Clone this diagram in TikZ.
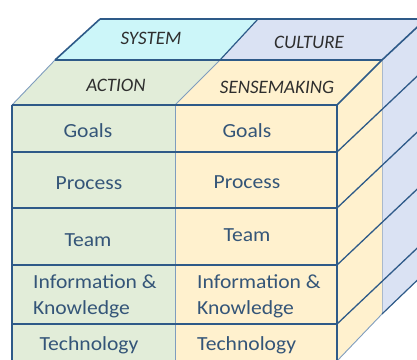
\documentclass[tikz,border=0pt]{standalone}
\usepackage{fontspec}
\setmainfont{Carlito}
\newfontfamily\cellfont[FakeStretch=1.08]{Carlito}
\definecolor{edge}{HTML}{2E5A88}
\definecolor{lightedge}{HTML}{7F9DBE}
\definecolor{divider}{HTML}{A9B9CC}
\definecolor{sysfill}{HTML}{CCF6F9}
\definecolor{culfill}{HTML}{DAE2F3}
\definecolor{actfill}{HTML}{E2EDD9}
\definecolor{senfill}{HTML}{FFF1CE}
\definecolor{celltext}{HTML}{345578}
\definecolor{toptext}{HTML}{2E2E2E}
\tikzset{
  edgeline/.style={draw=edge, line width=1.6pt},
  thinedge/.style={draw=lightedge, line width=0.9pt},
  toplabel/.style={font=\fontsize{19}{21}\selectfont\itshape, text=toptext, inner sep=0pt},
  celllabel/.style={font=\cellfont\fontsize{20}{26}\selectfont, text=celltext, inner sep=0pt, align=left},
}
\begin{document}
\begin{tikzpicture}[x=1pt,y=-1pt,line join=round]
\useasboundingbox (0,0) rectangle (417,359);
\clip (0,0) rectangle (417,359);
% side faces
\fill[culfill] (382,60) -- (428,17) -- (428,270) -- (382,314) -- cycle;
\fill[senfill] (337,105) -- (382,60) -- (382,314) -- (337,361) -- cycle;
% top faces
\fill[sysfill] (100,19) -- (258,19) -- (220,60) -- (55,60) -- cycle;
\fill[culfill] (258,19) -- (430,19) -- (382,60) -- (220,60) -- cycle;
\fill[actfill] (55,60) -- (220,60) -- (175,105) -- (12,105) -- cycle;
\fill[senfill] (220,60) -- (382,60) -- (337,105) -- (175,105) -- cycle;
% front faces
\fill[actfill] (12,105) rectangle (175,361);
\fill[senfill] (175,105) rectangle (337,361);
% corner coordinates
\coordinate (b1) at (100,19);
\coordinate (b2) at (258,19);
\coordinate (b3) at (430,19);
\coordinate (m1) at (55,60);
\coordinate (m2) at (220,60);
\coordinate (m3) at (382,60);
\coordinate (m3up) at (428,17);
\coordinate (f1) at (12,105);
\coordinate (f2) at (175,105);
\coordinate (f3) at (337,105);
\coordinate (f1b) at (12,362);
\coordinate (f2b) at (175,362);
\coordinate (f3b) at (337,361);
\coordinate (m3b) at (382,314);
\coordinate (m3bb) at (430,268);
% light lines
\draw[thinedge] (m2) -- (f2);
\draw[thinedge] (m1) -- (f1);
\draw[draw=divider, line width=1pt] (m3) -- (m3b);
\draw[draw=lightedge, line width=0.8pt] (f2) -- (f2b);
\draw[thinedge] (f3b) -- (m3b);
\draw[edgeline, line width=1.2pt] (m3b) -- (m3bb);
% dark edges
\draw[edgeline] (b1) -- (b3);
\draw[edgeline] (b1) -- (m1);
\draw[edgeline, line width=1.2pt] (b2) -- (m2);
\draw[edgeline] (m1) -- (m3);
\draw[edgeline] (m3) -- (m3up);
\draw[edgeline] (f3) -- (m3);
\draw[edgeline] (f1) -- (f3);
\draw[edgeline] (f1) -- (f1b);
\draw[edgeline, line width=2.6pt] (f3) -- (f3b);
% row lines and side diagonals
\foreach \y/\n in {152/r1,208/r2,265/r3,324/r4}{
  \coordinate (\n l) at (12,\y);
  \coordinate (\n r) at (337,\y);
  \coordinate (\n s) at (430,\y-88);
  \draw[edgeline, line width=1.5pt] (\n l) -- (\n r);
  \draw[edgeline, line width=1.3pt] (\n r) -- (\n s);
}
% top labels
\node[toplabel] (system) at (151,38) {SYSTEM};
\node[toplabel] (culture) at (309,42) {CULTURE};
\node[toplabel] (action) at (116,85) {ACTION};
\node[toplabel] (sense) at (277,87) {SENSEMAKING};
% left column
\node[celllabel] (lgoals) at (88,131) {Goals};
\node[celllabel] (lproc) at (89,183) {Process};
\node[celllabel] (lteam) at (88,240) {Team};
\node[celllabel, anchor=west] (linfo) at (33,296) {Information \&\\Knowledge};
\node[celllabel] (ltech) at (89,345) {Technology};
% right column
\node[celllabel] (rgoals) at (247,131) {Goals};
\node[celllabel] (rproc) at (247,182) {Process};
\node[celllabel] (rteam) at (247,235) {Team};
\node[celllabel, anchor=west] (rinfo) at (197,296) {Information \&\\Knowledge};
\node[celllabel, anchor=west] (rtech) at (197,345) {Technology};
\end{tikzpicture}
\end{document}
